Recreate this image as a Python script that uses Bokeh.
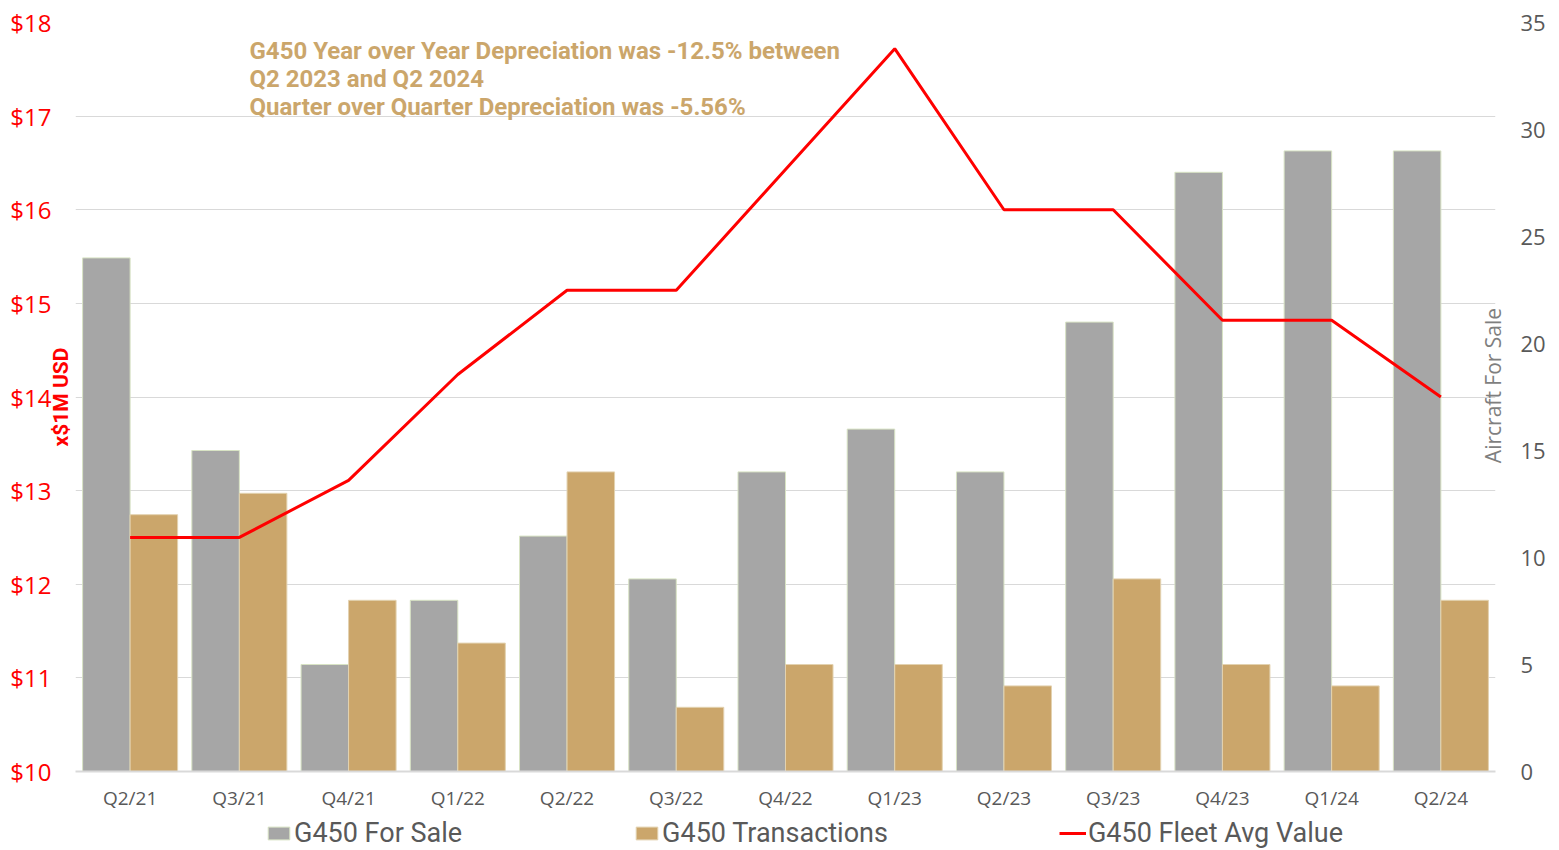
import math
from bokeh.plotting import figure
from bokeh.layouts import column
from bokeh.models import (Range1d, LinearAxis, FactorRange, ColumnDataSource, Legend,
                          LegendItem, Label, FixedTicker)
from bokeh.transform import dodge
from bokeh.embed import file_html
from bokeh.resources import INLINE
from bokeh.core.properties import value

quarters = ["Q2/21", "Q3/21", "Q4/21", "Q1/22", "Q2/22", "Q3/22", "Q4/22",
            "Q1/23", "Q2/23", "Q3/23", "Q4/23", "Q1/24", "Q2/24"]
for_sale = [24, 15, 5, 8, 11, 9, 14, 16, 14, 21, 28, 29, 29]
transactions = [12, 13, 8, 6, 14, 3, 5, 5, 4, 9, 5, 4, 8]
fleet_avg = [12.5, 12.5, 13.11, 14.24, 15.14, 15.14, 16.43, 17.72, 16.0, 16.0, 14.82, 14.82, 14.0]

left_ticks = [10, 11, 12, 13, 14, 15, 16, 17, 18]
left_labels = ["$10", "$11", "$12", "$13", "$14", "$15", "$16", "$17", "$18"]
right_ticks = [0, 5, 10, 15, 20, 25, 30, 35]
series_names = ["G450 For Sale", "G450 Transactions", "G450 Fleet Avg Value"]

note = ("G450 Year over Year Depreciation was -12.5% between\n"
        "Q2 2023 and Q2 2024\n"
        "Quarter over Quarter Depreciation was -5.56%")

GRAY = "#a6a6a6"
TAN = "#cba66b"
RED = "#ff0000"
TXT = "#595959"

src = ColumnDataSource(dict(q=quarters, fs=for_sale, tr=transactions, fa=fleet_avg))

p = figure(width=1559, height=813, x_range=FactorRange(*quarters, range_padding=0),
           y_range=Range1d(10, 18), output_backend="svg", toolbar_location=None,
           min_border_left=75, min_border_right=64, min_border_top=22, min_border_bottom=42)
p.extra_y_ranges = {"right": Range1d(0, 35)}
p.outline_line_color = None
p.background_fill_color = "white"
p.border_fill_color = "white"

bw = 0.435
p.vbar(x=dodge("q", -bw / 2, range=p.x_range), top="fs", bottom=0, width=bw,
       source=src, y_range_name="right", fill_color=GRAY, line_color="#d8e3c4", line_width=1)
p.vbar(x=dodge("q", bw / 2, range=p.x_range), top="tr", bottom=0, width=bw,
       source=src, y_range_name="right", fill_color=TAN, line_color="#e3d2b0", line_width=1)
p.line(x="q", y="fa", source=src, line_color=RED, line_width=3)

# left axis
ya = p.yaxis[0]
ya.ticker = FixedTicker(ticks=left_ticks)
ya.major_label_overrides = {t: l for t, l in zip(left_ticks, left_labels)}
ya.major_label_text_color = RED
ya.major_label_text_font = "Open Sans"
ya.major_label_text_font_size = "24px"
ya.major_label_standoff = 18
ya.major_tick_line_color = None
ya.minor_tick_line_color = None
ya.axis_line_color = None
ya.axis_label = "x$1M USD"
ya.axis_label_text_color = RED
ya.axis_label_text_font = "Roboto"
ya.axis_label_text_font_style = "bold"
ya.axis_label_text_font_size = "21px"
ya.axis_label_standoff = -66

# right axis
ra = LinearAxis(y_range_name="right", ticker=FixedTicker(ticks=right_ticks))
ra.major_label_text_color = TXT
ra.major_label_text_font = "Open Sans"
ra.major_label_text_font_size = "22px"
ra.major_label_standoff = 19
ra.major_tick_line_color = None
ra.minor_tick_line_color = None
ra.axis_line_color = None
p.add_layout(ra, "right")

# right-axis title, hosted in the roomy left border panel so that it is not clipped
p.add_layout(Label(x=1474, y=386, x_units="screen", y_units="screen", text="Aircraft For Sale",
                   angle=math.pi / 2, text_align="center", text_baseline="middle",
                   text_color="#7f7f7f", text_font="Open Sans", text_font_size="21px"), "left")

# x axis
xa = p.xaxis[0]
xa.major_label_text_color = TXT
xa.major_label_text_font = "Open Sans"
xa.major_label_text_font_size = "19px"
xa.major_label_standoff = 7
xa.major_tick_line_color = None
xa.minor_tick_line_color = None
xa.axis_line_color = "#d9d9d9"
xa.axis_line_width = 2

p.xgrid.grid_line_color = None
p.ygrid.grid_line_color = "#d9d9d9"
p.ygrid.grid_line_width = 1

p.add_layout(Label(x=1.593, y=17.85, text=note, text_color=TAN, text_font="Roboto",
                   text_font_style="bold", text_font_size="24px", text_baseline="top",
                   text_align="left", text_line_height=1.0))

# legend strip below the chart
lg = figure(width=1559, height=37, x_range=Range1d(0, 1), y_range=Range1d(0, 1),
            output_backend="svg", toolbar_location=None, x_axis_type=None, y_axis_type=None,
            min_border=0)
lg.outline_line_color = None
lg.xgrid.grid_line_color = None
lg.ygrid.grid_line_color = None
nan = float("nan")
proxy = ColumnDataSource(dict(x=[nan], y=[nan]))
d1 = lg.vbar(x="x", top="y", width=0.1, source=proxy, fill_color=GRAY, line_color="#d8e3c4")
d2 = lg.vbar(x="x", top="y", width=0.1, source=proxy, fill_color=TAN, line_color="#e3d2b0")
d3 = lg.line(x="x", y="y", source=proxy, line_color=RED, line_width=3)
legend = Legend(items=[LegendItem(label=n, renderers=[r]) for n, r in zip(series_names, [d1, d2, d3])],
                orientation="horizontal", location=(190, 1), spacing=171,
                label_standoff=2, glyph_width=27, glyph_height=16, padding=0, margin=0,
                label_text_font="Roboto", label_text_font_size="27px", label_text_color=TXT,
                border_line_color=None, background_fill_alpha=0)
lg.add_layout(legend, "center")

layout = column(p, lg, spacing=0)
open("out.html", "w").write(file_html(layout, INLINE))
